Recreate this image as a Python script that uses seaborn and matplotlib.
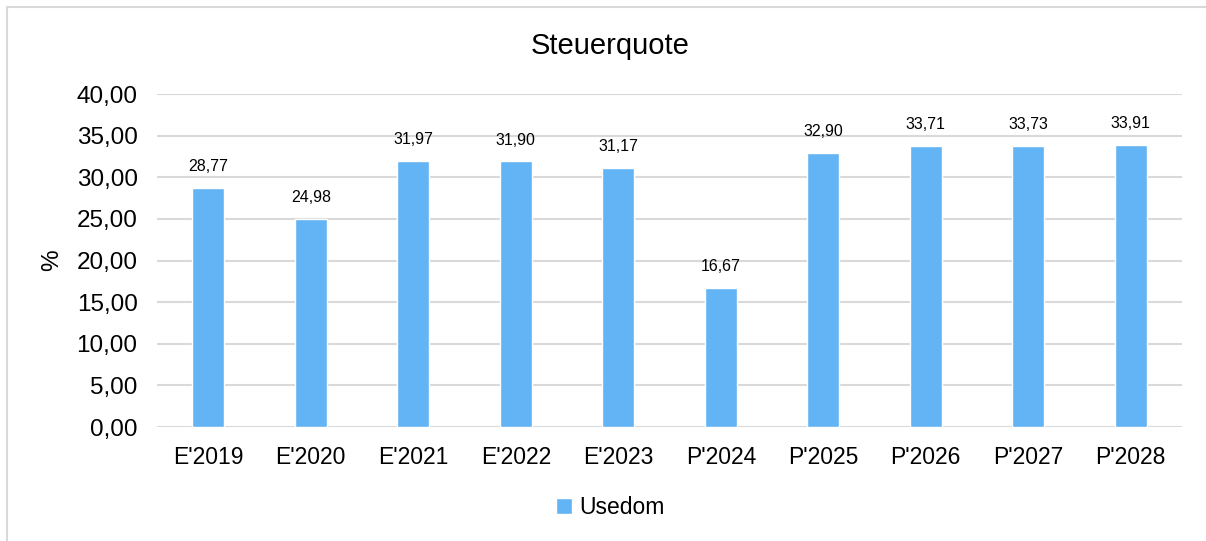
import matplotlib
matplotlib.use("Agg")

import pandas as pd
import matplotlib.pyplot as plt
import seaborn as sns
from matplotlib.patches import Patch
from matplotlib.lines import Line2D

sns.set_style("white")
plt.rcParams['font.family'] = ['Liberation Sans', 'DejaVu Sans']
plt.rcParams['text.color'] = "black"
plt.rcParams['xtick.color'] = "black"
plt.rcParams['ytick.color'] = "black"
plt.rcParams['axes.labelcolor'] = "black"

years = ["E'2019", "E'2020", "E'2021", "E'2022", "E'2023",
         "P'2024", "P'2025", "P'2026", "P'2027", "P'2028"]
steuerquote = [28.77, 24.98, 31.97, 31.90, 31.17, 16.67, 32.90, 33.71, 33.73, 33.91]
series_name = "Usedom"
yticks = [0, 5, 10, 15, 20, 25, 30, 35, 40]

bar_color = "#63B4F5"
grid_color = "#D9D9D9"

df = pd.DataFrame({"year": years, "value": steuerquote})

fig = plt.figure(figsize=(12.06, 5.41), dpi=100)
ax = fig.add_axes([0.1302, 0.2107, 0.8499, 0.6155])

sns.barplot(data=df, x="year", y="value", color=bar_color, width=0.31,
            saturation=1, ax=ax, zorder=3)

ax.bar_label(ax.containers[0], labels=[f"{v:.2f}".replace(".", ",") for v in steuerquote],
             padding=10, fontsize=11.5, color="black")

ax.set_ylim(0, 40)
ax.set_xlim(-0.5, len(years) - 0.5)
ax.set_yticks(yticks)
ax.set_yticklabels([f"{t:.2f}".replace(".", ",") for t in yticks], fontsize=17.5)
ax.tick_params(axis="x", labelsize=16.5, length=0, pad=14)
ax.tick_params(axis="y", length=0, pad=14)
ax.set_xlabel("")
ax.set_ylabel("%", fontsize=17.5, labelpad=10)
for t in yticks:
    ax.axhline(t, color=grid_color, lw=1.5, zorder=1)
for s in ax.spines.values():
    s.set_visible(False)

fig.text(0.506, 0.915, "Steuerquote", ha="center", va="center", fontsize=21)

fig.legend(handles=[Patch(facecolor=bar_color, label=series_name)],
           loc="center", bbox_to_anchor=(0.506, 0.062), frameon=False,
           fontsize=16.5, handlelength=0.7, handleheight=0.7, handletextpad=0.3)

# outer chart frame: top and left edges only
fig.add_artist(Line2D([7 / 1206, 1.0], [1 - 7 / 541, 1 - 7 / 541],
                      transform=fig.transFigure, color=grid_color, lw=1.5))
fig.add_artist(Line2D([7 / 1206, 7 / 1206], [0.0, 1 - 7 / 541],
                      transform=fig.transFigure, color=grid_color, lw=1.5))

plt.savefig("out.png", dpi=100)
plt.close()
